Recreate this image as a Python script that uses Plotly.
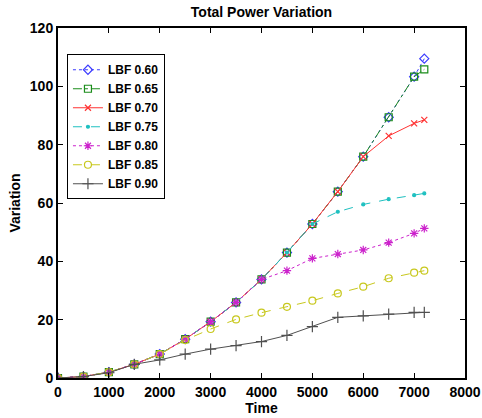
import plotly.graph_objects as go

time = [0, 500, 1000, 1500, 2000, 2500, 3000, 3500, 4000, 4500, 5000, 5500, 6000, 6500, 7000, 7200]

lbf_060 = [0, 0.5, 2, 4.7, 8.2, 13.3, 19.3, 25.9, 33.8, 43.0, 52.8, 63.9, 75.9, 89.4, 103.3, 109.5]
lbf_065 = [0, 0.5, 2, 4.7, 8.2, 13.3, 19.3, 25.9, 33.8, 43.0, 52.8, 63.9, 75.9, 89.4, 103.3, 105.8]
lbf_070 = [0, 0.5, 2, 4.7, 8.2, 13.3, 19.3, 25.9, 33.8, 43.0, 52.8, 63.9, 75.9, 83.0, 87.3, 88.5]
lbf_075 = [0, 0.5, 2, 4.7, 8.2, 13.3, 19.3, 25.9, 33.8, 43.0, 52.8, 57.0, 59.5, 61.3, 62.7, 63.3]
lbf_080 = [0, 0.5, 2, 4.7, 8.2, 13.3, 19.3, 25.9, 33.8, 36.8, 41.0, 42.5, 43.9, 46.4, 49.6, 51.3]
lbf_085 = [0, 0.5, 2, 4.7, 8.2, 13.0, 16.8, 20.1, 22.4, 24.4, 26.5, 29.0, 31.3, 34.2, 36.1, 36.8]
lbf_090 = [0, 0.5, 1.8, 4.7, 6.2, 8.2, 9.9, 11.1, 12.5, 14.6, 17.6, 20.8, 21.3, 21.9, 22.5, 22.5]

names = ["LBF 0.60", "LBF 0.65", "LBF 0.70", "LBF 0.75", "LBF 0.80", "LBF 0.85", "LBF 0.90"]
series = [lbf_060, lbf_065, lbf_070, lbf_075, lbf_080, lbf_085, lbf_090]
colors = ["#3b3bff", "#1a8c1a", "#ff3333", "#1fc0c0", "#cc22cc", "#c8c81e", "#505050"]
dashes = ["dot", "dashdot", "solid", "dash", "dot", "dash", "solid"]
symbols = ["diamond-open", "square-open", "x-thin-open", "circle", "asterisk-open", "circle-open", "cross-thin-open"]
msizes = [7, 7, 6, 3, 7, 7, 8]

FONT = "Liberation Sans, Arial, sans-serif"

fig = go.Figure()
for nm, ys, c, d, s, ms in zip(names, series, colors, dashes, symbols, msizes):
    fig.add_trace(go.Scatter(
        x=time, y=ys, name=nm, mode="lines+markers",
        line=dict(color=c, width=1, dash=d),
        marker=dict(symbol=s, size=ms, color=c, line=dict(color=c, width=1.2)),
    ))

axis_common = dict(
    showgrid=False, zeroline=False, showline=True, linecolor="black", linewidth=2,
    mirror="ticks", ticks="inside", ticklen=5, tickcolor="black", tickwidth=1,
    automargin=False,
    tickfont=dict(family=FONT, size=14, color="black", weight="bold"),
)
fig.update_layout(
    width=482, height=418,
    margin=dict(l=58, r=17, t=28, b=40),
    paper_bgcolor="white", plot_bgcolor="white",
    font=dict(family=FONT, size=14, color="black"),
    title=dict(text="Total Power Variation", x=0.5425, xanchor="center", y=0.971, yanchor="middle",
               font=dict(family=FONT, size=14, color="black", weight="bold")),
    xaxis=dict(range=[0, 8000], dtick=1000,
               title=dict(text="Time", standoff=2, font=dict(family=FONT, size=14, weight="bold")),
               **axis_common),
    yaxis=dict(range=[0, 120], dtick=20,
               title=dict(text="Variation", standoff=6, font=dict(family=FONT, size=14, weight="bold")),
               **axis_common),
    legend=dict(x=0.022, y=0.925, xanchor="left", yanchor="top", bgcolor="white",
                bordercolor="black", borderwidth=1, tracegroupgap=0, itemwidth=30,
                font=dict(family=FONT, size=12, color="black", weight="bold")),
    showlegend=True,
)

fig.write_html("out.html", config={"displayModeBar": False},
               post_script="document.body.style.margin='0px';document.body.style.overflow='hidden';")
